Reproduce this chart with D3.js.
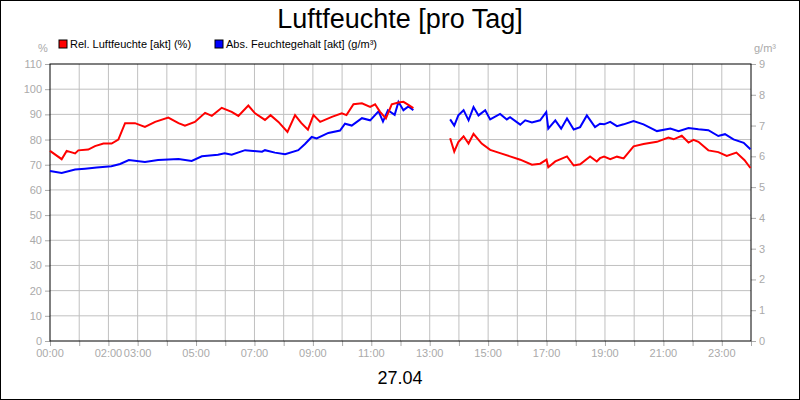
<!DOCTYPE html>
<html><head><meta charset="utf-8">
<script src="https://cdn.jsdelivr.net/npm/d3@7"></script>
<style>body{margin:0;background:#fff}svg{display:block;font-family:"Liberation Sans",Arial,sans-serif}</style>
</head><body><svg id="chart" width="800" height="400"></svg>
<script>
// hours of day
const relHours = [0,0.4,0.57,0.86,0.97,1.31,1.54,1.83,2.11,2.34,2.57,2.91,3.25,3.6,4.05,4.4,4.62,4.96,5.31,5.54,5.88,6.22,6.45,6.79,7.02,7.36,7.55,7.82,8.13,8.39,8.6,8.83,9.02,9.25,9.65,9.99,10.15,10.39,10.68,10.96,11.13,11.3,11.5,11.7,11.93,12.1,12.27,12.44,
  null,
  13.7,13.84,13.98,14.16,14.33,14.5,14.78,15.07,15.41,15.75,16.1,16.5,16.78,17.0,17.06,17.3,17.7,17.93,18.15,18.49,18.72,18.83,18.97,19.18,19.41,19.64,19.98,20.32,20.78,21.17,21.35,21.63,21.86,22.03,22.2,22.54,22.88,23.17,23.5,23.78,23.98];
const relValues = [75.5,72.2,75.5,74.5,75.7,76,77.4,78.4,78.4,80,86.5,86.5,85,87,88.7,86.5,85.5,87,90.6,89.4,92.6,91,89.4,93.5,90.4,87.8,89.7,87,83,89.7,86.6,83.9,89.7,87,89,90.4,89.7,94,94.4,93,94,91,88.4,94,94.7,95,93.8,92.5,
  null,
  80.5,75.2,79,81.3,78.4,82.3,78.4,75.9,74.6,73.3,72,70,70.4,72,69,71.3,73.3,69.7,70.2,73.3,71.3,72.6,73.2,72.2,73.2,72.5,77.3,78.2,79.1,80.8,80.1,81.5,78.8,79.9,79.1,75.7,75,73.5,74.8,71.8,68.7];
const absHours = [0,0.4,0.86,1.2,1.6,2.1,2.4,2.7,3.25,3.7,4.4,4.85,5.2,5.75,5.98,6.22,6.68,7.26,7.36,7.7,8.05,8.5,8.73,8.96,9.13,9.53,9.93,10.1,10.33,10.68,10.96,11.25,11.4,11.57,11.8,11.93,12.1,12.27,12.44,
  null,
  13.7,13.84,13.98,14.16,14.33,14.5,14.67,14.9,15.07,15.41,15.64,15.75,16.1,16.27,16.5,16.78,16.99,17.06,17.3,17.5,17.7,17.93,18.15,18.38,18.66,18.83,18.97,19.18,19.41,19.64,19.98,20.32,20.78,21.24,21.52,21.86,22.2,22.54,22.88,23.11,23.4,23.75,23.98];
const absValues = [5.52,5.46,5.57,5.6,5.64,5.68,5.75,5.88,5.82,5.88,5.91,5.85,6.0,6.05,6.1,6.05,6.2,6.15,6.2,6.12,6.07,6.2,6.4,6.63,6.58,6.76,6.84,7.06,7.0,7.24,7.17,7.46,7.13,7.5,7.35,7.77,7.5,7.62,7.5,
  null,
  7.2,7.0,7.33,7.5,7.17,7.6,7.33,7.5,7.2,7.38,7.2,7.27,7.03,7.17,7.1,7.17,7.44,6.9,7.17,6.9,7.23,6.87,6.95,7.33,6.95,7.06,7.04,7.12,6.98,7.04,7.15,7.04,6.82,6.9,6.82,6.92,6.88,6.85,6.66,6.72,6.55,6.44,6.23];
const xTickLabels = ["00:00","02:00","03:00","05:00","07:00","09:00","11:00","13:00","15:00","17:00","19:00","21:00","23:00"];
const xLabelHours = [0,2,3,5,7,9,11,13,15,17,19,21,23];
const leftTicks = d3.range(0, 111, 10);
const rightTicks = d3.range(0, 10, 1);
const legendNames = ["Rel. Luftfeuchte [akt] (%)", "Abs. Feuchtegehalt [akt] (g/m³)"];
const seriesColors = ["#ff0000", "#0000ff"];

const svg = d3.select("#chart");
const L = 50, R = 751, T = 64, B = 341;
const x = d3.scaleLinear().domain([0, 24]).range([L, R]);
const yL = d3.scaleLinear().domain([0, 110]).range([B, T]);
const yR = d3.scaleLinear().domain([0, 9]).range([B, T]);
const grey = "#aaaaaa";

svg.append("rect").attr("x", 0.5).attr("y", 0.5).attr("width", 799).attr("height", 399)
  .attr("fill", "#fff").attr("stroke", "#000");

// grid
svg.append("g").selectAll("line").data(d3.range(1, 24)).join("line")
  .attr("x1", d => x(d)).attr("x2", d => x(d)).attr("y1", T).attr("y2", B)
  .attr("stroke", "#c0c0c0");
svg.append("g").selectAll("line").data(leftTicks.slice(1, -1)).join("line")
  .attr("x1", L).attr("x2", R).attr("y1", d => yL(d)).attr("y2", d => yL(d))
  .attr("stroke", "#c0c0c0");

// axes
const ax = d3.axisBottom(x).tickValues(d3.range(0, 25)).tickSize(5).tickFormat("");
svg.append("g").attr("transform", `translate(0,${B})`).call(ax)
  .call(g => { g.select(".domain").remove(); g.selectAll("line").attr("stroke", grey); });
svg.append("g").selectAll("text").data(xLabelHours).join("text")
  .attr("x", d => x(d)).attr("y", B + 16).attr("text-anchor", "middle")
  .attr("font-size", 11).attr("fill", grey).text((d, i) => xTickLabels[i]);

svg.append("g").attr("transform", `translate(${L},0)`)
  .call(d3.axisLeft(yL).tickValues(leftTicks).tickSize(5).tickPadding(3))
  .call(g => { g.select(".domain").remove(); g.selectAll("line").attr("stroke", grey);
    g.selectAll("text").attr("fill", grey).attr("font-size", 11).attr("font-family", "Liberation Sans"); });
svg.append("g").attr("transform", `translate(${R},0)`)
  .call(d3.axisRight(yR).tickValues(rightTicks).tickSize(5).tickPadding(3))
  .call(g => { g.select(".domain").remove(); g.selectAll("line").attr("stroke", grey);
    g.selectAll("text").attr("fill", grey).attr("font-size", 11).attr("font-family", "Liberation Sans"); });

svg.append("rect").attr("x", L).attr("y", T).attr("width", R - L).attr("height", B - T)
  .attr("fill", "none").attr("stroke", "#000");

// lines
const relData = relHours.map((h, i) => [h, relValues[i]]);
const absData = absHours.map((h, i) => [h, absValues[i]]);
const line = ys => d3.line().defined(d => d[0] !== null).x(d => x(d[0])).y(d => ys(d[1]));
svg.append("path").datum(absData).attr("d", line(yR)).attr("fill", "none")
  .attr("stroke", seriesColors[1]).attr("stroke-width", 2);
svg.append("path").datum(relData).attr("d", line(yL)).attr("fill", "none")
  .attr("stroke", seriesColors[0]).attr("stroke-width", 2);

// text
svg.append("text").attr("x", 400).attr("y", 28).attr("text-anchor", "middle")
  .attr("font-size", 27).text("Luftfeuchte [pro Tag]");
svg.append("text").attr("x", 400).attr("y", 384).attr("text-anchor", "middle")
  .attr("font-size", 18).text("27.04");
svg.append("text").attr("x", 43).attr("y", 52).attr("text-anchor", "middle")
  .attr("font-size", 11).attr("fill", grey).text("%");
svg.append("text").attr("x", 765).attr("y", 52).attr("text-anchor", "middle")
  .attr("font-size", 11).attr("fill", grey).text("g/m³");

const lg = svg.append("g").selectAll("g").data(legendNames).join("g")
  .attr("transform", (d, i) => `translate(${[59, 215][i]},40)`);
lg.append("rect").attr("width", 8).attr("height", 8).attr("fill", (d, i) => seriesColors[i]).attr("stroke", "#000");
lg.append("text").attr("x", 11).attr("y", 8).attr("font-size", 11).text(d => d);
</script></body></html>
